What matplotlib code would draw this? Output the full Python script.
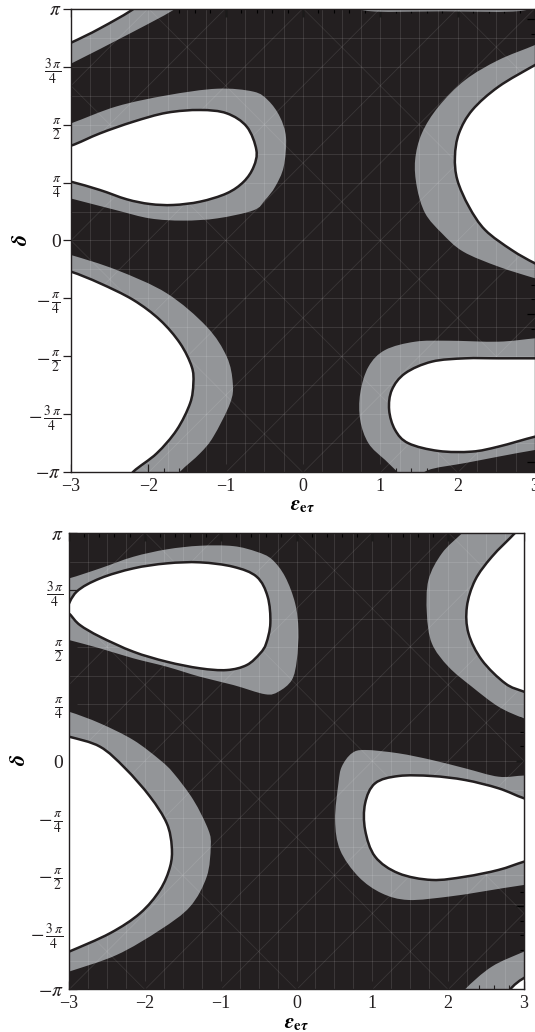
import numpy as np
import matplotlib.pyplot as plt
from matplotlib.path import Path
from matplotlib.patches import PathPatch
from matplotlib.ticker import MultipleLocator, FixedLocator

plt.rcParams['font.family'] = ['Liberation Serif', 'DejaVu Serif']
plt.rcParams['mathtext.fontset'] = 'stix'

DARK = '#231f20'
GREY = '#939598'

eps_ticks = [-3, -2, -1, 0, 1, 2, 3]
eps_labels = ['\u22123', '\u22122', '\u22121', '0', '1', '2', '3']
delta_ticks = [-np.pi, -3 * np.pi / 4, -np.pi / 2, -np.pi / 4, 0,
               np.pi / 4, np.pi / 2, 3 * np.pi / 4, np.pi]
delta_labels = [r'$-\pi$', r'$-\,\frac{3\,\pi}{4}$', r'$-\,\frac{\pi}{2}$',
                r'$-\,\frac{\pi}{4}$', '0', r'$\frac{\pi}{4}$', r'$\frac{\pi}{2}$',
                r'$\frac{3\,\pi}{4}$', r'$\pi$']

# region boundaries (eps, delta); points past the frame close the shapes
# --- upper panel ---
top_corner_grey = [(-3.3, 2.25), (-3.0, 2.40), (-2.2, 2.83), (-1.63, 3.16), (-1.5, 3.35), (-3.3, 3.35)]
top_corner_white = [(-3.3, 2.55), (-3.0, 2.684), (-2.625, 2.879), (-2.17, 3.16), (-2.05, 3.35), (-3.3, 3.35)]
top_sliver_grey = [(0.72, 3.3), (0.80, 3.12), (1.8, 3.11), (2.85, 3.12), (2.9, 3.3)]
top_left_grey = [(-3.3, 1.50), (-3.0, 1.59), (-2.41, 1.82), (-1.76, 1.97), (-1.11, 2.06),
                 (-0.64, 2.02), (-0.45, 1.90), (-0.30, 1.68), (-0.22, 1.40), (-0.25, 1.00),
                 (-0.36, 0.73), (-0.49, 0.55), (-0.64, 0.41), (-1.11, 0.30), (-1.55, 0.27),
                 (-1.98, 0.30), (-2.41, 0.41), (-3.0, 0.57), (-3.3, 0.65)]
top_left_white = [(-3.3, 1.22), (-3.0, 1.287), (-2.625, 1.454), (-2.194, 1.612), (-1.762, 1.734),
                  (-1.331, 1.771), (-0.986, 1.726), (-0.727, 1.544), (-0.603, 1.228),
                  (-0.638, 1.001), (-0.767, 0.798), (-0.986, 0.640), (-1.331, 0.527),
                  (-1.677, 0.482), (-1.978, 0.495), (-2.279, 0.559), (-2.625, 0.685),
                  (-3.0, 0.798), (-3.3, 0.87)]
top_right_grey = [(3.3, 2.80), (3.0, 2.653), (2.528, 2.449), (2.097, 2.178), (1.752, 1.816),
                  (1.537, 1.455), (1.45, 1.092), (1.472, 0.730), (1.58, 0.369), (1.796, 0.098),
                  (2.07, -0.15), (2.528, -0.355), (3.0, -0.513), (3.3, -0.6)]
top_right_white = [(3.3, 2.55), (3.0, 2.381), (2.528, 2.087), (2.19, 1.771), (2.017, 1.455),
                   (1.965, 1.137), (1.996, 0.821), (2.146, 0.459), (2.356, 0.142), (2.70, -0.13),
                   (3.0, -0.31), (3.3, -0.45)]
top_low_left_grey = [(-3.3, -0.12), (-3.0, -0.197), (-2.41, -0.40), (-1.762, -0.716),
                     (-1.245, -1.17), (-0.986, -1.577), (-0.908, -1.938), (-0.943, -2.209),
                     (-1.159, -2.662), (-1.331, -2.888), (-1.59, -3.137), (-1.75, -3.35),
                     (-3.3, -3.35)]
top_low_left_white = [(-3.3, -0.35), (-3.0, -0.423), (-2.625, -0.581), (-2.194, -0.807),
                      (-1.849, -1.079), (-1.59, -1.395), (-1.439, -1.712), (-1.418, -1.938),
                      (-1.46, -2.209), (-1.633, -2.571), (-1.891, -2.888), (-2.194, -3.137),
                      (-2.35, -3.35), (-3.3, -3.35)]
top_low_right_grey = [(3.3, -1.30), (3.0, -1.327), (2.528, -1.373), (1.882, -1.36), (1.45, -1.373),
                      (1.062, -1.486), (0.847, -1.712), (0.74, -2.073), (0.74, -2.436),
                      (0.847, -2.752), (1.062, -2.978), (1.35, -3.22), (1.666, -3.10),
                      (2.097, -3.02), (2.528, -2.933), (3.0, -2.843), (3.3, -2.80)]
top_low_right_white = [(3.3, -1.60), (3.0, -1.599), (2.528, -1.599), (2.097, -1.599),
                       (1.666, -1.644), (1.321, -1.802), (1.149, -2.028), (1.114, -2.3),
                       (1.191, -2.571), (1.364, -2.752), (1.752, -2.856), (2.183, -2.865),
                       (2.528, -2.797), (3.0, -2.662), (3.3, -2.60)]

# --- lower panel ---
bot_up_left_grey = [(-3.3, 2.45), (-3.0, 2.516), (-2.591, 2.654), (-2.152, 2.814), (-1.711, 2.916),
                    (-1.272, 2.966), (-0.833, 2.961), (-0.525, 2.883), (-0.326, 2.78),
                    (-0.15, 2.539), (-0.018, 2.172), (0.025, 1.804), (0.004, 1.391),
                    (-0.062, 1.116), (-0.239, 0.955), (-0.414, 0.92), (-0.833, 1.047),
                    (-1.272, 1.161), (-1.711, 1.299), (-2.152, 1.415), (-2.591, 1.552),
                    (-3.0, 1.667), (-3.3, 1.75)]
bot_up_left_white = [(-3.03, 2.08), (-2.9, 2.332), (-2.591, 2.516), (-2.152, 2.654),
                     (-1.711, 2.723), (-1.272, 2.737), (-0.833, 2.676), (-0.525, 2.539),
                     (-0.38, 2.263), (-0.345, 1.90), (-0.40, 1.62), (-0.48, 1.483),
                     (-0.656, 1.322), (-0.92, 1.253), (-1.272, 1.277), (-1.711, 1.368),
                     (-2.152, 1.506), (-2.591, 1.712), (-2.855, 1.873), (-2.978, 2.011)]
bot_low_left_grey = [(-3.3, 0.75), (-3.0, 0.679), (-2.591, 0.519), (-2.152, 0.289), (-1.8, 0.014),
                     (-1.62, -0.17), (-1.36, -0.537), (-1.162, -0.95), (-1.131, -1.18),
                     (-1.184, -1.594), (-1.404, -2.007), (-1.8, -2.328), (-2.371, -2.672),
                     (-3.0, -2.902), (-3.3, -3.0)]
bot_low_left_white = [(-3.3, 0.40), (-3.0, 0.335), (-2.591, 0.197), (-2.26, -0.10),
                      (-1.931, -0.492), (-1.711, -0.858), (-1.645, -1.18), (-1.667, -1.456),
                      (-1.8, -1.777), (-2.063, -2.098), (-2.459, -2.373), (-3.0, -2.627),
                      (-3.3, -2.75)]
bot_up_right_grey = [(2.40, 3.35), (2.181, 3.136), (1.917, 2.861), (1.74, 2.493), (1.719, 2.034),
                     (1.785, 1.621), (2.004, 1.299), (2.313, 1.023), (2.664, 0.748), (3.0, 0.588),
                     (3.3, 0.5), (3.3, 3.35)]
bot_up_right_white = [(3.05, 3.35), (2.884, 3.145), (2.576, 2.814), (2.356, 2.493), (2.247, 2.125),
                      (2.268, 1.759), (2.444, 1.391), (2.752, 1.07), (3.0, 0.955), (3.3, 0.85),
                      (3.3, 3.35)]
bot_low_right_grey = [(3.3, -0.20), (3.0, -0.20), (2.664, -0.216), (2.224, -0.101), (1.785, 0.014),
                      (1.345, 0.106), (0.905, 0.152), (0.729, 0.106), (0.597, -0.078),
                      (0.553, -0.307), (0.509, -0.813), (0.575, -1.226), (0.817, -1.594),
                      (1.125, -1.823), (1.476, -1.915), (2.004, -1.869), (2.444, -1.8),
                      (3.0, -1.708), (3.3, -1.68)]
bot_low_right_white = [(3.3, -0.60), (3.0, -0.514), (2.664, -0.376), (2.224, -0.262),
                       (1.785, -0.207), (1.345, -0.207), (1.037, -0.307), (0.905, -0.583),
                       (0.905, -0.95), (1.037, -1.318), (1.345, -1.547), (1.785, -1.639),
                       (2.224, -1.594), (2.664, -1.501), (3.0, -1.387), (3.3, -1.30)]
bot_corner_grey = [(2.10, -3.35), (2.224, -3.145), (2.576, -2.833), (3.0, -2.627), (3.3, -2.5),
                   (3.3, -3.35)]
bot_corner_white = [(2.72, -3.35), (2.82, -3.145), (3.0, -2.99), (3.3, -2.85), (3.3, -3.35)]


def smooth_path(pts):
    # closed Catmull-Rom curve through the boundary points, as cubic Bezier segments
    p = np.asarray(pts, float)
    n = len(p)
    verts = [p[0]]
    codes = [Path.MOVETO]
    for i in range(n):
        p0, p1, p2, p3 = p[i - 1], p[i], p[(i + 1) % n], p[(i + 2) % n]
        verts += [p1 + (p2 - p0) / 6, p2 - (p3 - p1) / 6, p2]
        codes += [Path.CURVE4] * 3
    return Path(verts, codes)


def draw_panel(ax, greys, whites, left_dir, left_pad):
    ax.set_facecolor(DARK)
    ax.set_xlim(-3, 3)
    ax.set_ylim(-np.pi, np.pi)

    for pts in greys:
        ax.add_patch(PathPatch(smooth_path(pts), facecolor=GREY, edgecolor='none', zorder=1))

    # faint mesh texture like the original rendering
    for x in np.arange(-3, 3.01, 0.25):
        ax.axvline(x, color='white', alpha=0.13, lw=0.6, zorder=1.5)
    for y in np.linspace(-np.pi, np.pi, 17):
        ax.axhline(y, color='white', alpha=0.13, lw=0.6, zorder=1.5)
    for c in np.arange(-7, 7.01, 1.0):
        ax.axline((c, 0), slope=1.05, color='white', alpha=0.10, lw=0.6, zorder=1.5)
    for c in np.arange(-7, 7.01, 2.0):
        ax.axline((c, 0), slope=-1.05, color='white', alpha=0.09, lw=0.6, zorder=1.5)

    for pts in whites:
        ax.add_patch(PathPatch(smooth_path(pts), facecolor='white', edgecolor=DARK,
                               lw=1.8, zorder=2))

    for s in ax.spines.values():
        s.set_color(DARK)
        s.set_linewidth(1.0)

    ax.xaxis.set_major_locator(FixedLocator(eps_ticks))
    ax.set_xticklabels(eps_labels)
    ax.xaxis.set_minor_locator(MultipleLocator(0.2))
    ax.yaxis.set_major_locator(FixedLocator(delta_ticks))
    ax.set_yticklabels(delta_labels)
    ax.yaxis.set_minor_locator(FixedLocator([]))
    ax.tick_params(axis='x', which='major', direction='in', length=6, width=0.9,
                   labelsize=13, pad=4, top=False, colors=DARK)
    ax.tick_params(axis='x', which='minor', direction='in', length=3, width=0.8, top=False,
                   colors=DARK)
    ax.tick_params(axis='y', which='major', direction=left_dir, length=6, width=0.9,
                   labelsize=14, pad=left_pad, right=False, colors=DARK)

    top = ax.secondary_xaxis('top')
    top.xaxis.set_major_locator(MultipleLocator(1))
    top.xaxis.set_minor_locator(MultipleLocator(0.2))
    top.tick_params(which='major', direction='in', length=6, width=0.9, labeltop=False)
    top.tick_params(which='minor', direction='in', length=3, width=0.8)
    top.spines['top'].set_color(DARK)

    right = ax.secondary_yaxis('right')
    right.yaxis.set_major_locator(MultipleLocator(1))
    right.yaxis.set_minor_locator(MultipleLocator(0.2))
    right.tick_params(which='major', direction='in', length=6, width=0.9, labelright=False)
    right.tick_params(which='minor', direction='in', length=3, width=0.8)
    right.spines['right'].set_color(DARK)

    ax.set_xlabel(r'$\boldsymbol{\epsilon}_{\mathbf{e}\boldsymbol{\tau}}$', fontsize=15)
    ax.set_ylabel('\u03b4', fontfamily='STIXGeneral', fontstyle='italic',
                  fontweight='bold', fontsize=16)


fig = plt.figure(figsize=(5.35, 10.32), dpi=100)
ax1 = fig.add_axes([71 / 535, 1 - 472 / 1032, 464 / 535, 463 / 1032])
ax2 = fig.add_axes([69 / 535, 1 - 989 / 1032, 455 / 535, 456 / 1032])

draw_panel(ax1,
           [top_corner_grey, top_sliver_grey, top_left_grey, top_right_grey,
            top_low_left_grey, top_low_right_grey],
           [top_corner_white, top_left_white, top_right_white, top_low_left_white,
            top_low_right_white],
           'out', 1)
draw_panel(ax2,
           [bot_up_left_grey, bot_low_left_grey, bot_up_right_grey, bot_low_right_grey,
            bot_corner_grey],
           [bot_up_left_white, bot_low_left_white, bot_up_right_white, bot_low_right_white,
            bot_corner_white],
           'in', 4)

ax1.xaxis.set_label_coords(0.5, -0.052)
ax1.yaxis.set_label_coords(-0.085, 0.5)
ax2.xaxis.set_label_coords(0.5, -0.056)
ax2.yaxis.set_label_coords(-0.088, 0.5)

fig.savefig('out.png', dpi=100)
